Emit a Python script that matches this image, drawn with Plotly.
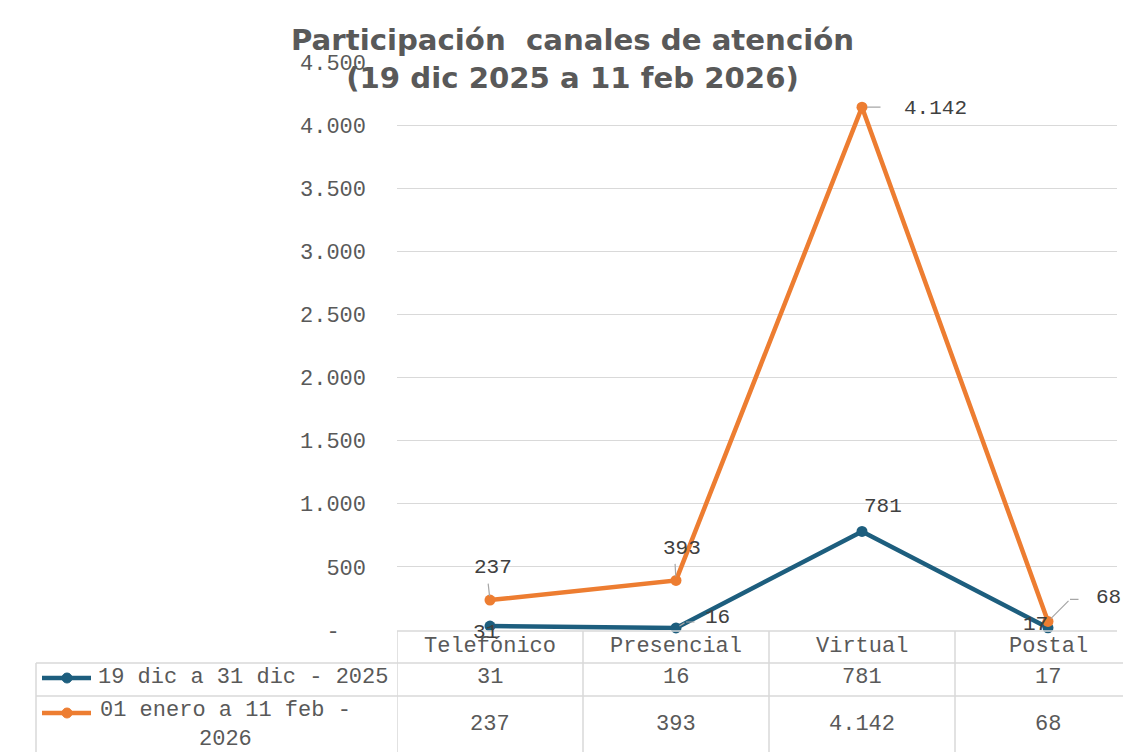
import plotly.graph_objects as go

categories = ["Telefónico", "Presencial", "Virtual", "Postal"]
series_names = ["19 dic a 31 dic - 2025", "01 enero a 11 feb -<br>2026"]
serie_2025 = [31, 16, 781, 17]
serie_2026 = [237, 393, 4142, 68]
tick_vals = [0, 500, 1000, 1500, 2000, 2500, 3000, 3500, 4000, 4500]
title_text = "Participación  canales de atención<br>(19 dic 2025 a 11 feb 2026)"

BLUE = "#1D5E7E"
ORANGE = "#ED7D31"
GRAY = "#595959"
DARK = "#404040"
GRID = "#D9D9D9"
MONO = "Liberation Mono"

OFF = 8  # page body margin
W, H = 1131 - OFF, 752 - OFF
PLOT_L, PLOT_R, PLOT_T, PLOT_B = 397, 1117, 62, 630  # in screen pixels
PW, PH = PLOT_R - PLOT_L, PLOT_B - PLOT_T
BAND = 186.0


def fmt(v):
    return f"{v:,}".replace(",", ".")


def px(xp):
    return (xp - PLOT_L) / PW


def py(yp):
    return (PLOT_B - yp) / PH


xs = list(range(len(categories)))

fig = go.Figure()
fig.add_trace(go.Scatter(x=xs, y=serie_2025, mode="lines+markers",
                         line=dict(color=BLUE, width=4.5),
                         marker=dict(size=11, color=BLUE), cliponaxis=False,
                         showlegend=False))
fig.add_trace(go.Scatter(x=xs, y=serie_2026, mode="lines+markers",
                         line=dict(color=ORANGE, width=4.5),
                         marker=dict(size=11, color=ORANGE), cliponaxis=False,
                         showlegend=False))

ann = []
# title
ann.append(dict(x=px(572), y=py(59), xref="paper", yref="paper", text="<b>" + title_text + "</b>",
                showarrow=False, xanchor="center", yanchor="middle",
                font=dict(family="DejaVu Sans", size=29.2, color=GRAY)))

# data labels (text offsets in px)
lab_font = dict(family=MONO, size=21, color=DARK)
off_2025 = [(-5, 6), (41, -10), (21, -25), (-13, -3)]
off_2026 = [(3, -33), (6, -32), (73, 1), (60, -24)]
for i, v in enumerate(serie_2025):
    dx, dy = off_2025[i]
    ann.append(dict(x=xs[i], y=v, text=fmt(v), showarrow=False, xshift=dx, yshift=-dy,
                    xanchor="center", yanchor="middle", font=lab_font))
for i, v in enumerate(serie_2026):
    dx, dy = off_2026[i]
    ann.append(dict(x=xs[i], y=v, text=fmt(v), showarrow=False, xshift=dx, yshift=-dy,
                    xanchor="center", yanchor="middle", font=lab_font))

# leader lines
lead = dict(text="", showarrow=True, arrowhead=0, arrowwidth=1.2, arrowcolor="#A6A6A6")
ann.append(dict(x=xs[0], y=serie_2026[0], ax=-2, ay=-18, standoff=4, **lead))
ann.append(dict(x=xs[1], y=serie_2026[1], ax=-1, ay=-18, standoff=4, **lead))
ann.append(dict(x=xs[2], y=serie_2026[2], ax=20, ay=0, standoff=5, **lead))
ann.append(dict(x=xs[3], y=serie_2026[3], ax=22, ay=-22, standoff=4, **lead))
ann.append(dict(x=xs[3], y=serie_2026[3], xshift=22, yshift=22, ax=10, ay=0, standoff=0, **lead))
ann.append(dict(x=xs[1], y=serie_2025[1], ax=10, ay=-6, standoff=4, **lead))
ann.append(dict(x=xs[1], y=serie_2025[1], xshift=10, yshift=6, ax=10, ay=0, standoff=0, **lead))

# data table
tab_font = dict(family=MONO, size=22, color=GRAY)
for i, c in enumerate(categories):
    for txt, yp in [(c, 646), (fmt(serie_2025[i]), 678), (fmt(serie_2026[i]), 724)]:
        ann.append(dict(x=xs[i], y=py(yp), yref="paper", text=txt, showarrow=False,
                        xanchor="center", yanchor="middle", font=tab_font))
ann.append(dict(x=px(96), y=py(678), xref="paper", yref="paper", text=series_names[0], showarrow=False,
                xanchor="left", yanchor="middle", font=tab_font))
ann.append(dict(x=px(225), y=py(725), xref="paper", yref="paper", text=series_names[1], showarrow=False,
                xanchor="center", yanchor="middle", align="center", font=tab_font))

shapes = []
lc = dict(color=GRID, width=1.5)
# table horizontal lines
shapes.append(dict(type="line", xref="x", yref="paper", x0=-0.5, x1=3.6, y0=py(631), y1=py(631), line=lc))
shapes.append(dict(type="line", xref="paper", yref="paper", x0=px(36), x1=px(1140), y0=py(663), y1=py(663), line=lc))
shapes.append(dict(type="line", xref="paper", yref="paper", x0=px(36), x1=px(1140), y0=py(696), y1=py(696), line=lc))
# table vertical lines
shapes.append(dict(type="line", xref="paper", yref="paper", x0=px(36), x1=px(36), y0=py(663), y1=py(760), line=lc))
for b in [-0.5, 0.5, 1.5, 2.5]:
    shapes.append(dict(type="line", xref="x", yref="paper", x0=b, x1=b, y0=py(631), y1=py(760), line=lc))
# legend keys
for yp, col in [(678, BLUE), (713, ORANGE)]:
    shapes.append(dict(type="line", xref="paper", yref="paper", x0=px(42), x1=px(91), y0=py(yp), y1=py(yp),
                       line=dict(color=col, width=4.5)))
    shapes.append(dict(type="circle", xref="paper", yref="paper", x0=px(62), x1=px(72), y0=py(yp - 5), y1=py(yp + 5),
                       fillcolor=col, line=dict(color=col, width=1)))

fig.update_layout(
    width=W, height=H,
    margin=dict(l=PLOT_L - OFF, r=(OFF + W) - PLOT_R, t=PLOT_T - OFF, b=(OFF + H) - PLOT_B),
    paper_bgcolor="white", plot_bgcolor="white",
    annotations=ann, shapes=shapes,
    xaxis=dict(range=[-0.5, -0.5 + PW / BAND], showticklabels=False, showgrid=False,
               zeroline=False, showline=False, ticks=""),
    yaxis=dict(range=[0, 4500], tickvals=tick_vals,
               ticktext=["-\u00a0\u00a0"] + [fmt(v) for v in tick_vals[1:]],
               tickfont=dict(family=MONO, size=22, color=GRAY),
               showgrid=True, gridcolor=GRID, gridwidth=1.2, zeroline=False, showline=False,
               ticks="", ticklabelstandoff=30),
    showlegend=False,
)

fig.write_html("out.html")
